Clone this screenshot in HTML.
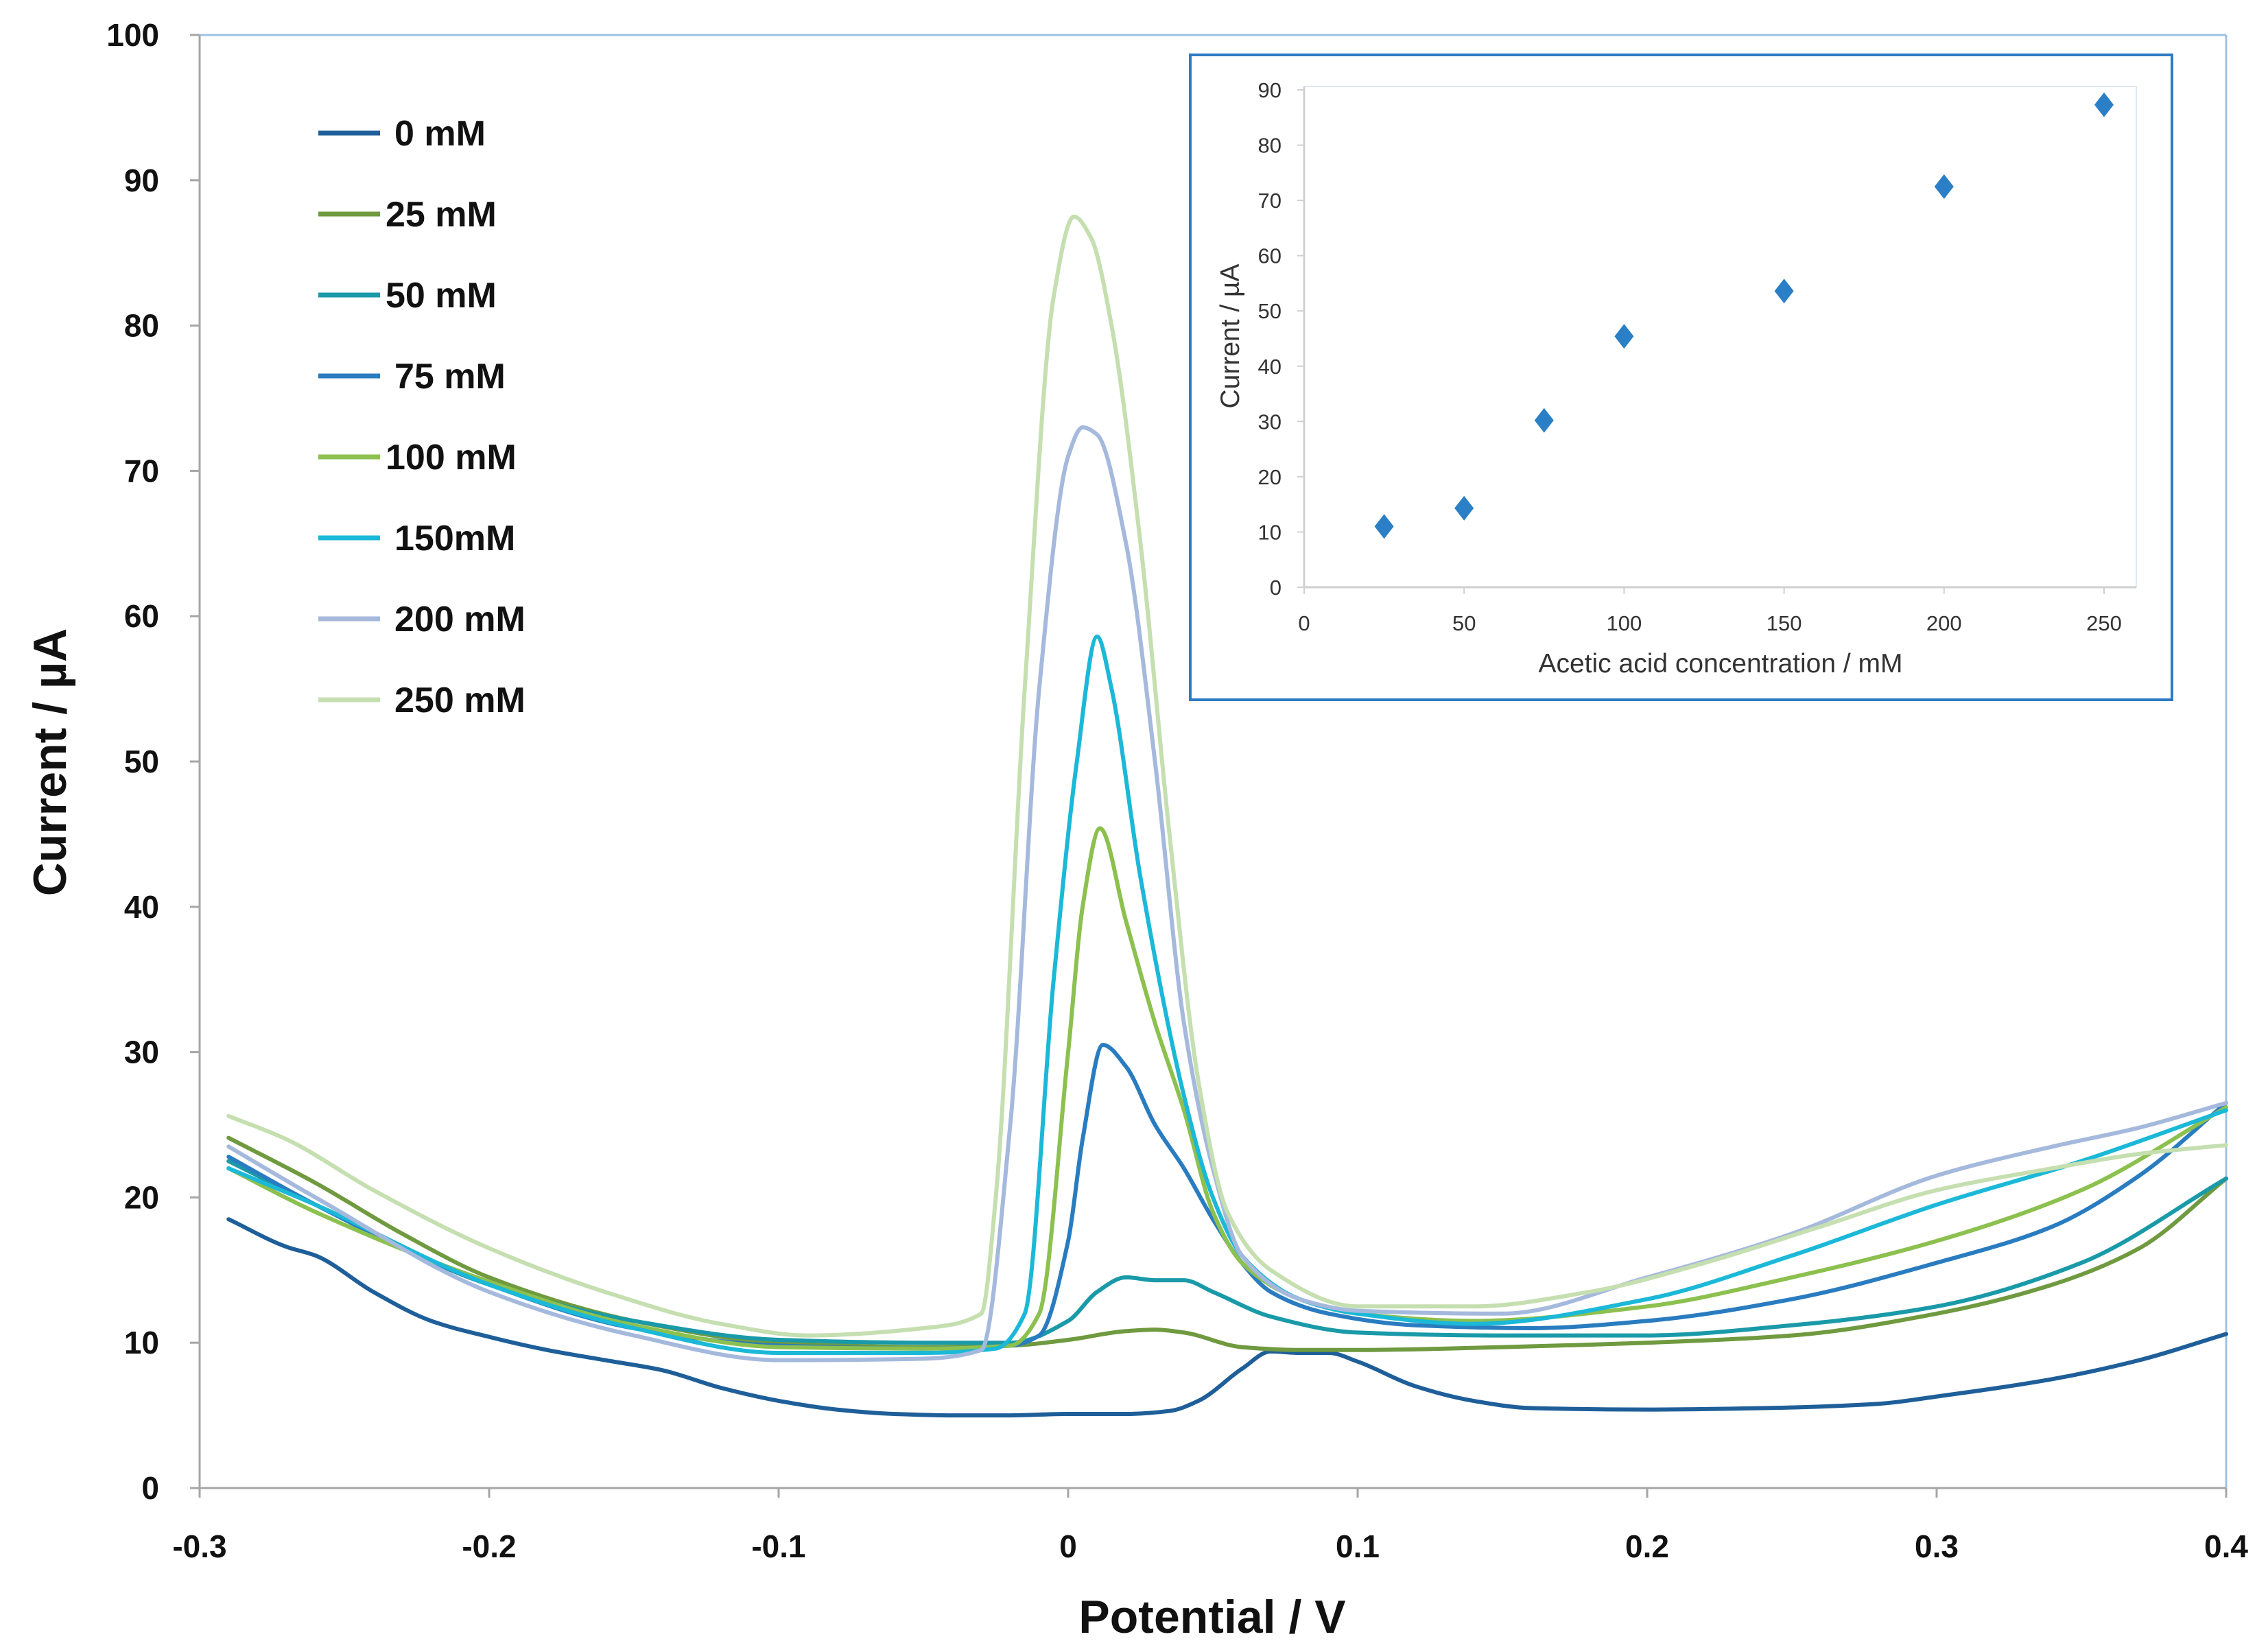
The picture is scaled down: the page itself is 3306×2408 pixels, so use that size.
<!DOCTYPE html>
<html><head><meta charset="utf-8"><style>
html,body{margin:0;padding:0;background:#fff;}
svg{display:block;font-family:"Liberation Sans",sans-serif;}
</style></head><body>
<svg id="chart" width="3306" height="2408" viewBox="0 0 3306 2408" xmlns="http://www.w3.org/2000/svg">
<rect width="3306" height="2408" fill="#fff"/>
<g id="main"></g>
<g id="inset"></g>
</svg>
<script>
const seriesNames = ["0 mM","25 mM","50 mM","75 mM","100 mM","150mM","200 mM","250 mM"];
const seriesColors = ["#1f5f99","#6f9a3f","#1a9aa8","#2a7cc0","#8cc04f","#1bb8d8","#a5b9dd","#c5dfb0"];
const s0 = [[-0.29,18.5],[-0.27,16.6],[-0.26,16],[-0.24,13.5],[-0.22,11.5],[-0.2,10.4],[-0.18,9.5],[-0.16,8.8],[-0.14,8.1],[-0.12,6.9],[-0.1,6],[-0.08,5.4],[-0.06,5.1],[-0.04,5],[-0.02,5],[0,5.1],[0.02,5.1],[0.035,5.3],[0.045,6],[0.06,8.2],[0.07,9.4],[0.08,9.3],[0.09,9.3],[0.1,8.7],[0.12,7],[0.14,6],[0.16,5.5],[0.2,5.4],[0.24,5.5],[0.28,5.8],[0.3,6.3],[0.34,7.5],[0.37,8.8],[0.4,10.6]];
const s25 = [[-0.29,24.1],[-0.26,21],[-0.23,17.5],[-0.2,14.5],[-0.15,11.5],[-0.1,10],[-0.05,9.7],[-0.02,9.8],[0,10.2],[0.02,10.8],[0.03,10.9],[0.04,10.7],[0.06,9.7],[0.08,9.5],[0.1,9.5],[0.15,9.7],[0.2,10],[0.25,10.5],[0.3,12],[0.34,14],[0.37,16.5],[0.4,21.3]];
const s50 = [[-0.29,22.5],[-0.26,19.5],[-0.23,16.5],[-0.2,14],[-0.15,11.5],[-0.1,10.2],[-0.05,10],[-0.02,10],[0,11.5],[0.01,13.5],[0.02,14.5],[0.03,14.3],[0.04,14.3],[0.05,13.5],[0.07,11.8],[0.1,10.7],[0.15,10.5],[0.2,10.5],[0.25,11.2],[0.3,12.5],[0.35,15.5],[0.4,21.3]];
const s75 = [[-0.29,22.8],[-0.26,19.5],[-0.2,14],[-0.15,11],[-0.1,9.8],[-0.05,9.6],[-0.02,9.8],[-0.01,10.5],[0,17],[0.005,24],[0.012,30.5],[0.02,29],[0.03,25],[0.04,22],[0.05,18.5],[0.06,15.5],[0.07,13.5],[0.09,12],[0.12,11.2],[0.16,11],[0.2,11.5],[0.25,13],[0.3,15.5],[0.34,18],[0.37,21.5],[0.4,26.5]];
const s100 = [[-0.29,22],[-0.26,19],[-0.2,14.2],[-0.15,11.2],[-0.1,9.7],[-0.05,9.6],[-0.02,9.8],[-0.01,12],[0,30],[0.005,40],[0.011,45.4],[0.02,39],[0.03,32],[0.04,26],[0.05,19],[0.06,15.5],[0.08,13],[0.1,12],[0.14,11.5],[0.2,12.5],[0.25,14.5],[0.3,17],[0.35,20.5],[0.4,26.2]];
const s150 = [[-0.29,22],[-0.26,19.5],[-0.2,14],[-0.15,11],[-0.1,9.3],[-0.05,9.3],[-0.025,9.6],[-0.015,12],[-0.005,35],[0.003,50],[0.01,58.6],[0.015,55],[0.025,42],[0.04,27],[0.05,20],[0.06,16],[0.08,13],[0.1,12],[0.14,11.3],[0.2,13],[0.25,16],[0.3,19.5],[0.35,22.5],[0.4,26]];
const s200 = [[-0.29,23.5],[-0.26,20],[-0.2,13.5],[-0.15,10.5],[-0.1,8.8],[-0.05,8.9],[-0.03,9.5],[-0.02,25],[-0.01,55],[0,71],[0.005,73],[0.01,72.5],[0.02,65],[0.03,50],[0.04,32],[0.05,22],[0.06,16],[0.08,13],[0.1,12.2],[0.15,12],[0.2,14.5],[0.25,17.5],[0.3,21.5],[0.34,23.5],[0.37,24.8],[0.4,26.5]];
const s250 = [[-0.29,25.6],[-0.27,24],[-0.24,20.5],[-0.2,16.5],[-0.16,13.5],[-0.12,11.3],[-0.09,10.5],[-0.05,11],[-0.03,12],[-0.025,20],[-0.015,55],[-0.005,82],[0.002,87.5],[0.008,86],[0.015,80],[0.025,65],[0.035,45],[0.045,28],[0.055,19],[0.07,15],[0.1,12.5],[0.14,12.5],[0.18,13.5],[0.22,15.5],[0.26,18],[0.3,20.5],[0.34,22],[0.37,23],[0.4,23.6]];
const xTicks = ["-0.3","-0.2","-0.1","0","0.1","0.2","0.3","0.4"];
const yTicks = [0,10,20,30,40,50,60,70,80,90,100];
const insetX = [25,50,75,100,150,200,250];
const insetY = [11,14.3,30.2,45.4,53.6,72.5,87.3];
const insetXTicks = [0,50,100,150,200,250];
const insetYTicks = [0,10,20,30,40,50,60,70,80,90];

const NS="http://www.w3.org/2000/svg";
function mk(p,tag,attrs,txt){const e=document.createElementNS(NS,tag);for(const k in attrs)e.setAttribute(k,attrs[k]);if(txt!==undefined)e.textContent=txt;p.appendChild(e);return e;}
const X0=291,X1=3245,Y0=2169,Y1=51;
const sx=v=>X0+(v+0.3)/0.7*(X1-X0);
const sy=v=>Y0-v/100*(Y0-Y1);
function monotonePath(pts){
  const n=pts.length, dx=[], m=[], t=new Array(n);
  for(let i=0;i<n-1;i++){dx.push(pts[i+1][0]-pts[i][0]);m.push((pts[i+1][1]-pts[i][1])/dx[i]);}
  t[0]=m[0]; t[n-1]=m[n-2];
  for(let i=1;i<n-1;i++){
    if(m[i-1]*m[i]<=0) t[i]=0;
    else{const w1=2*dx[i]+dx[i-1],w2=dx[i]+2*dx[i-1];t[i]=(w1+w2)/(w1/m[i-1]+w2/m[i]);}
  }
  let d='M'+pts[0][0].toFixed(1)+','+pts[0][1].toFixed(1);
  for(let i=0;i<n-1;i++){
    const h=dx[i]/3;
    d+=` C${(pts[i][0]+h).toFixed(1)},${(pts[i][1]+t[i]*h).toFixed(1)} ${(pts[i+1][0]-h).toFixed(1)},${(pts[i+1][1]-t[i+1]*h).toFixed(1)} ${pts[i+1][0].toFixed(1)},${pts[i+1][1].toFixed(1)}`;
  }
  return d;
}
const main=document.getElementById('main');
let e;
e=mk(main,'line',{x1:X0,y1:Y1,x2:X1,y2:Y1,stroke:'#9cc3e6','stroke-width':3});


e=mk(main,'line',{x1:X1,y1:Y1,x2:X1,y2:Y0,stroke:'#9cc3e6','stroke-width':3});


e=mk(main,'line',{x1:X0,y1:Y1,x2:X0,y2:Y0,stroke:'#a6a6a6','stroke-width':3});


e=mk(main,'line',{x1:X0,y1:Y0,x2:X1,y2:Y0,stroke:'#a6a6a6','stroke-width':3});


yTicks.forEach(t=>{
  mk(main,'line',{x1:X0-14,y1:sy(t),x2:X0,y2:sy(t),stroke:'#a6a6a6','stroke-width':3});
  e=mk(main,'text',{x:232,y:sy(t)+16,'text-anchor':'end','font-size':46,'font-weight':'bold',fill:'#111'},String(t));
  
  
});
xTicks.forEach(t=>{
  const x=sx(parseFloat(t));
  mk(main,'line',{x1:x,y1:Y0,x2:x,y2:Y0+14,stroke:'#a6a6a6','stroke-width':3});
  e=mk(main,'text',{x:x,y:2270,'text-anchor':'middle','font-size':46,'font-weight':'bold',fill:'#111'},t);
  
  
});
e=mk(main,'text',{x:1767,y:2380,'text-anchor':'middle','font-size':68,'font-weight':'bold',fill:'#111'},'Potential / V');


e=mk(main,'text',{x:0,y:0,transform:'translate(96,1111) rotate(-90)','text-anchor':'middle','font-size':68,'font-weight':'bold',fill:'#111'},'Current / µA');


const allSeries=[s0,s25,s50,s75,s100,s150,s200,s250];
allSeries.forEach((s,i)=>{
  const d=monotonePath(s.map(p=>[sx(p[0]),sy(p[1])]));
  e=mk(main,'path',{d:d,fill:'none',stroke:seriesColors[i],'stroke-width':6,'stroke-linejoin':'round','stroke-linecap':'round'});
  
  
});
seriesNames.forEach((n,i)=>{
  const y=194+i*118;
  const g=mk(main,'g',{});
  
  
  mk(g,'line',{x1:464,y1:y,x2:554,y2:y,stroke:seriesColors[i],'stroke-width':7});
  const tx=(i==1||i==2||i==4)?562:575;
  mk(g,'text',{x:tx,y:y+18,'font-size':52,'font-weight':'bold',fill:'#111'},n);
});
const ins=document.getElementById('inset');
e=mk(ins,'rect',{x:1735,y:80,width:1431,height:940,fill:'#fff',stroke:'#2e7bc4','stroke-width':4});


const IX0=1901,IX1=3067,IY0=856,IY1=131;
const ix=v=>IX0+v/250*(IX1-IX0);
const iy=v=>IY0-v/90*(IY0-IY1);
mk(ins,'rect',{x:IX0,y:126,width:3114-IX0,height:IY0-126,fill:'none',stroke:'#dde8f3','stroke-width':2});
mk(ins,'line',{x1:IX0,y1:126,x2:IX0,y2:IY0,stroke:'#d0d0d0','stroke-width':3});
mk(ins,'line',{x1:IX0,y1:IY0,x2:3114,y2:IY0,stroke:'#d0d0d0','stroke-width':3});
insetYTicks.forEach(t=>{
  mk(ins,'line',{x1:IX0-10,y1:iy(t),x2:IX0,y2:iy(t),stroke:'#d0d0d0','stroke-width':2});
  e=mk(ins,'text',{x:1868,y:iy(t)+11,'text-anchor':'end','font-size':31,fill:'#333'},String(t));
  
  
});
insetXTicks.forEach(t=>{
  mk(ins,'line',{x1:ix(t),y1:IY0,x2:ix(t),y2:IY0+10,stroke:'#d0d0d0','stroke-width':2});
  e=mk(ins,'text',{x:ix(t),y:919,'text-anchor':'middle','font-size':31,fill:'#333'},String(t));
  
  
});
e=mk(ins,'text',{x:2508,y:980,'text-anchor':'middle','font-size':39,fill:'#333'},'Acetic acid concentration / mM');


e=mk(ins,'text',{x:0,y:0,transform:'translate(1806,490) rotate(-90)','text-anchor':'middle','font-size':39,fill:'#333'},'Current / µA');


insetX.forEach((c,i)=>{
  const x=ix(c),y=iy(insetY[i]);
  e=mk(ins,'path',{d:`M${x},${y-18} L${x+14},${y} L${x},${y+18} L${x-14},${y} Z`,fill:'#2a7fc6'});
  
  
});
</script>
</body></html>
